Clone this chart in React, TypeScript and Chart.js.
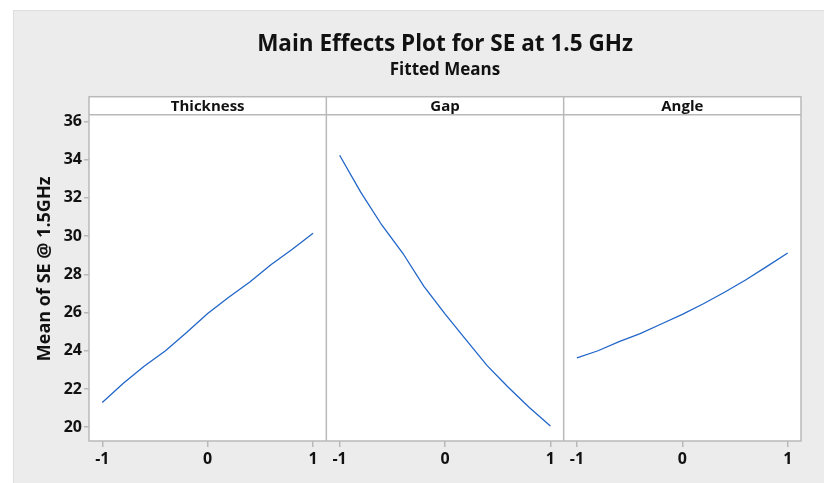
import React, { useEffect, useRef } from "react";
import { Chart, registerables } from "chart.js";

Chart.register(...registerables);

// ---- data ----
const levels = [-1, -0.8, -0.6, -0.4, -0.2, 0, 0.2, 0.4, 0.6, 0.8, 1];
const thicknessMeans = [21.29, 22.3, 23.2, 24.0, 24.95, 25.95, 26.8, 27.6, 28.5, 29.3, 30.15];
const gapMeans = [34.23, 32.3, 30.58, 29.1, 27.37, 25.93, 24.57, 23.22, 22.09, 21.03, 20.07];
const angleMeans = [23.63, 24.0, 24.48, 24.9, 25.4, 25.9, 26.46, 27.06, 27.7, 28.4, 29.11];
const factorNames = ["Thickness", "Gap", "Angle"];
const seriesMeans = [thicknessMeans, gapMeans, angleMeans];
const xTickValues = [-1, 0, 1];
const xTickLabels = ["-1", "0", "1"];
const yTickStep = 2;

const titleText = "Main Effects Plot for SE at 1.5 GHz";
const subtitleText = "Fitted Means";
const yAxisTitle = "Mean of SE @ 1.5GHz";

// ---- styles ----
const FONT = "'Open Sans', 'Noto Sans', sans-serif";
const TEXT = "#111111";
const FRAME = "#b9b9b9";
const LINE = "#2166c8";
const HEADER_H = 18;
const panelIds = ["x0", "x1", "x2"];

const panelPlugin = {
  id: "panelFrame",
  beforeDraw(chart: any) {
    const { ctx, chartArea: a } = chart;
    ctx.save();
    ctx.fillStyle = "#ffffff";
    ctx.fillRect(a.left, a.top, a.right - a.left, a.bottom - a.top);
    ctx.restore();
  },
  afterDatasetsDraw(chart: any) {
    const { ctx, chartArea: a } = chart;
    ctx.save();
    ctx.strokeStyle = FRAME;
    ctx.lineWidth = 1.5;
    const hb = a.top + HEADER_H;
    ctx.beginPath();
    ctx.moveTo(a.left, hb);
    ctx.lineTo(a.right, hb);
    ctx.stroke();
    panelIds.slice(0, -1).forEach((id) => {
      const s = chart.scales[id];
      ctx.beginPath();
      ctx.moveTo(s.right, a.top);
      ctx.lineTo(s.right, a.bottom);
      ctx.stroke();
    });
    ctx.strokeRect(a.left, a.top, a.right - a.left, a.bottom - a.top);
    ctx.fillStyle = TEXT;
    ctx.font = `bold 15px ${FONT}`;
    ctx.textAlign = "center";
    ctx.textBaseline = "middle";
    panelIds.forEach((id, i) => {
      const s = chart.scales[id];
      ctx.fillText(factorNames[i], (s.left + s.right) / 2, a.top + HEADER_H / 2 + 1);
    });
    ctx.restore();
  },
};

export default function App() {
  const canvasRef = useRef<HTMLCanvasElement | null>(null);

  useEffect(() => {
    if (!canvasRef.current) return;
    Chart.defaults.font.family = FONT;
    Chart.defaults.color = TEXT;

    const xScale = () => ({
      type: "linear",
      position: "bottom",
      stack: "panels",
      stackWeight: 1,
      min: -1.126,
      max: 1.126,
      offset: false,
      border: { display: false },
      grid: {
        display: true,
        drawOnChartArea: false,
        drawTicks: true,
        tickLength: 6,
        color: FRAME,
        lineWidth: 1.5,
      },
      ticks: {
        stepSize: 1,
        includeBounds: false,
        autoSkip: false,
        maxRotation: 0,
        padding: 3,
        color: TEXT,
        font: { size: 16, weight: "bold" },
        callback: (v: number) => {
          const k = xTickValues.indexOf(v);
          return k >= 0 ? xTickLabels[k] : "";
        },
      },
      afterFit: (s: any) => {
        s.height = 42;
      },
    });

    const chart = new Chart(canvasRef.current, {
      type: "line",
      data: {
        datasets: seriesMeans.map((vals, i) => ({
          label: factorNames[i],
          data: levels.map((x, j) => ({ x, y: vals[j] })),
          xAxisID: panelIds[i],
          yAxisID: "y",
          borderColor: LINE,
          backgroundColor: LINE,
          borderWidth: 1.3,
          pointRadius: 0,
          tension: 0,
          fill: false,
        })),
      },
      options: {
        responsive: false,
        animation: false,
        layout: { padding: { left: 0, right: 23, top: 0, bottom: 0 } },
        plugins: {
          legend: { display: false },
          tooltip: { enabled: false },
          title: {
            display: true,
            text: titleText,
            fullSize: false,
            color: TEXT,
            font: { size: 22.5, weight: "bold", lineHeight: 1.2 },
            padding: { top: 20.9, bottom: 0 },
          },
          subtitle: {
            display: true,
            text: subtitleText,
            fullSize: false,
            color: TEXT,
            font: { size: 17, weight: "bold", lineHeight: 1.2 },
            padding: { top: 1.6, bottom: 16.8 },
          },
        },
        scales: {
          x0: xScale(),
          x1: xScale(),
          x2: xScale(),
          y: {
            type: "linear",
            position: "left",
            min: 19.28,
            max: 37.29,
            border: { display: false },
            grid: {
              display: true,
              drawOnChartArea: false,
              drawTicks: true,
              tickLength: 5,
              color: FRAME,
              lineWidth: 1.5,
            },
            ticks: {
              stepSize: yTickStep,
              includeBounds: false,
              padding: 2,
              color: TEXT,
              font: { size: 16, weight: "bold" },
              callback: (v: number) => (v <= 36 ? String(v) : ""),
            },
            title: {
              display: true,
              text: yAxisTitle,
              color: TEXT,
              font: { size: 18, weight: "bold", lineHeight: 1.2 },
              padding: { top: 21.2, bottom: 0 },
            },
            afterFit: (s: any) => {
              s.width = 76;
            },
          },
        },
      } as any,
      plugins: [panelPlugin],
    });

    return () => chart.destroy();
  }, []);

  return (
    <div
      style={{
        position: "fixed",
        left: 13,
        top: 10,
        width: 811,
        height: 473,
        background: "#ececec",
        boxShadow: "inset 1px 1px 0 #dedede",
        overflow: "hidden",
      }}
    >
      <canvas ref={canvasRef} width={811} height={473} style={{ display: "block" }} />
    </div>
  );
}
